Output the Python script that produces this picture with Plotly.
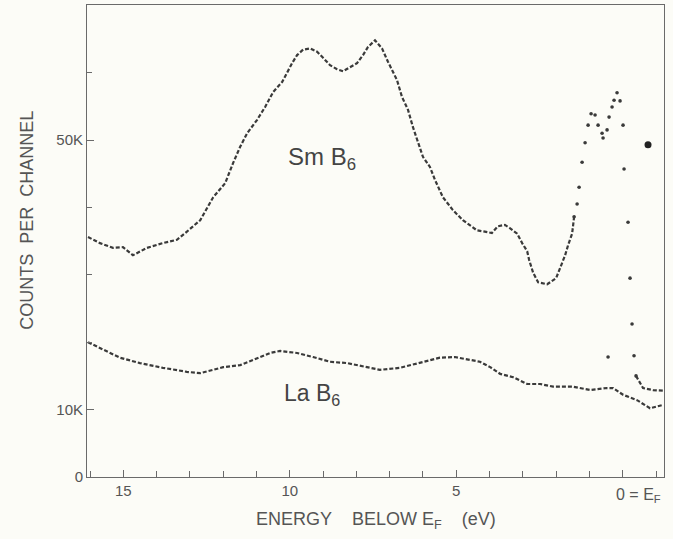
import plotly.graph_objects as go

# Energy below E_F (eV) and counts per channel (thousands)
smb6_energy = [16.06, 15.70, 15.31, 15.01, 14.71, 14.29, 13.81, 13.39, 13.09, 12.69,
               12.30, 11.94, 11.70, 11.49, 11.28, 10.98, 10.74, 10.50, 10.23, 10.08,
               9.93, 9.78, 9.60, 9.39, 9.18, 9.00, 8.79, 8.58, 8.40, 8.19,
               7.98, 7.80, 7.65, 7.44, 7.23, 7.05, 6.78, 6.63, 6.45, 6.30,
               6.15, 6.00, 5.79, 5.64, 5.40, 5.10, 4.80, 4.38, 4.14, 3.93,
               3.75, 3.54, 3.38, 3.17, 3.02, 2.87, 2.81, 2.69, 2.54, 2.27,
               2.00, 1.88, 1.73, 1.64, 1.52, 1.46, 1.37, 1.31, 1.22, 1.13,
               1.04, 0.95, 0.83, 0.74, 0.62, 0.59, 0.47, 0.41, 0.32, 0.26,
               0.17, 0.08, -0.01, -0.04, -0.16, -0.22, -0.28, -0.34, -0.40, -0.61,
               -0.91, -1.21]
smb6_counts = [35.6, 34.7, 34.0, 34.1, 32.9, 34.0, 34.7, 35.2, 36.4, 38.1,
               41.5, 43.6, 46.6, 49.0, 51.0, 53.0, 54.9, 57.1, 58.6, 60.1,
               61.4, 62.6, 63.4, 63.6, 63.1, 62.2, 61.1, 60.5, 60.2, 60.8,
               61.4, 62.6, 63.8, 64.8, 63.6, 61.6, 58.9, 56.4, 54.5, 51.9,
               49.6, 47.5, 46.0, 44.1, 41.5, 39.6, 38.1, 36.6, 36.4, 36.2,
               37.2, 37.4, 36.9, 36.1, 34.7, 33.5, 32.2, 30.3, 28.9, 28.6,
               29.5, 31.0, 32.9, 34.4, 36.1, 38.6, 40.5, 43.0, 46.7, 49.6,
               52.2, 53.9, 53.7, 52.2, 51.0, 50.3, 51.5, 53.4, 54.9, 55.9,
               57.0, 55.8, 52.2, 45.7, 37.8, 29.5, 22.7, 18.0, 15.0, 13.2,
               12.9, 12.8]

lab6_energy = [16.06, 15.70, 15.10, 14.50, 13.81, 13.09, 12.69, 12.30, 12.00, 11.49,
               11.10, 10.59, 10.29, 9.78, 9.30, 8.79, 8.28, 7.68, 7.29, 6.69,
               6.09, 5.49, 5.04, 4.58, 4.29, 3.98, 3.68, 3.29, 2.87, 2.48,
               2.09, 1.49, 0.98, 0.47, 0.29, -0.01, -0.43, -0.82, -1.21]
lab6_counts = [20.0, 19.1, 17.7, 16.9, 16.2, 15.6, 15.4, 15.9, 16.3, 16.6,
               17.4, 18.4, 18.7, 18.4, 17.8, 17.1, 16.9, 16.3, 15.9, 16.2,
               16.9, 17.7, 17.8, 17.4, 17.1, 16.3, 15.3, 14.8, 13.8, 13.8,
               13.4, 13.4, 12.9, 13.2, 13.2, 12.2, 11.4, 10.2, 10.7]

stray_energy = [0.44]
stray_counts = [17.8]
marker_energy = [-0.76]
marker_counts = [49.3]

x_tickvals = [15, 10, 5, 0]
x_ticktext = ["15", "10", "5", ""]
y_tickvals = [0, 10, 50]
y_ticktext = ["0", "10K", "50K"]

ink = "#3a3a3a"
axis_col = "#6a6a6a"
text_col = "#555"
font_family = "Liberation Sans, Arial, sans-serif"
dash_style = "4px,2px"

# the steep Fermi-edge region is drawn as separate dots, as in the scan
edge_lo, edge_hi = 65, 89

fig = go.Figure()
fig.add_trace(go.Scatter(x=smb6_energy[:edge_lo + 1], y=smb6_counts[:edge_lo + 1], mode="lines",
                         line=dict(color=ink, width=2.2, dash=dash_style)))
fig.add_trace(go.Scatter(x=smb6_energy[edge_lo:edge_hi], y=smb6_counts[edge_lo:edge_hi], mode="markers",
                         marker=dict(color=ink, size=3.6)))
fig.add_trace(go.Scatter(x=smb6_energy[edge_hi - 1:], y=smb6_counts[edge_hi - 1:], mode="lines",
                         line=dict(color=ink, width=2.2, dash=dash_style)))
fig.add_trace(go.Scatter(x=lab6_energy, y=lab6_counts, mode="lines",
                         line=dict(color=ink, width=2.2, dash=dash_style)))
fig.add_trace(go.Scatter(x=stray_energy, y=stray_counts, mode="markers",
                         marker=dict(color=ink, size=3.6)))
fig.add_trace(go.Scatter(x=marker_energy, y=marker_counts, mode="markers",
                         marker=dict(color="#222", size=7)))

fig.update_layout(
    width=673, height=539,
    margin=dict(l=87, r=9, t=5, b=62),
    paper_bgcolor="#fcfcf7", plot_bgcolor="#fcfcf7",
    font=dict(family=font_family, color=text_col, size=15),
    showlegend=False,
    xaxis=dict(range=[16.09, -1.24], tickvals=x_tickvals, ticktext=x_ticktext,
               ticks="inside", ticklen=7, tickcolor=axis_col, tickwidth=1,
               minor=dict(ticks="inside", dtick=1, ticklen=6, tickcolor=axis_col),
               showline=True, linecolor=axis_col, linewidth=1, mirror=True,
               showgrid=False, zeroline=False,
               tickfont=dict(size=15, color=text_col)),
    yaxis=dict(range=[0, 70.03], tickvals=y_tickvals, ticktext=y_ticktext,
               ticks="inside", ticklen=7, tickcolor=axis_col, tickwidth=1,
               minor=dict(ticks="inside", dtick=10, ticklen=5, tickcolor=axis_col),
               showline=True, linecolor=axis_col, linewidth=1, mirror=True,
               showgrid=False, zeroline=False,
               tickfont=dict(size=15, color=text_col)),
)

nb = "\u00a0"
fig.add_annotation(xref="paper", yref="paper", x=0.501, y=-0.0915,
                   text="ENERGY" + nb * 4 + "BELOW" + nb + "E<sub>F</sub>" + nb * 4 + "(eV)",
                   showarrow=False, xanchor="center", yanchor="middle",
                   font=dict(size=18, color=text_col))
fig.add_annotation(xref="paper", yref="paper", x=-0.104, y=0.545,
                   text="COUNTS" + nb * 2 + "PER" + nb * 2 + "CHANNEL", textangle=-90,
                   showarrow=False, xanchor="center", yanchor="middle",
                   font=dict(size=18, color=text_col))
fig.add_annotation(x=0, y=0, xref="x", yref="y", text="0" + nb + "=" + nb + "E<sub>F</sub>",
                   showarrow=False, xanchor="left", yanchor="top", xshift=-9, yshift=-7,
                   font=dict(size=16, color=text_col))
fig.add_annotation(x=9.03, y=47.3, xref="x", yref="y", text="Sm" + nb + "B<sub>6</sub>",
                   showarrow=False, font=dict(size=24, color="#444"))
fig.add_annotation(x=9.33, y=12.2, xref="x", yref="y", text="La" + nb + "B<sub>6</sub>",
                   showarrow=False, font=dict(size=23, color="#444"))

fig.write_html("out.html")
